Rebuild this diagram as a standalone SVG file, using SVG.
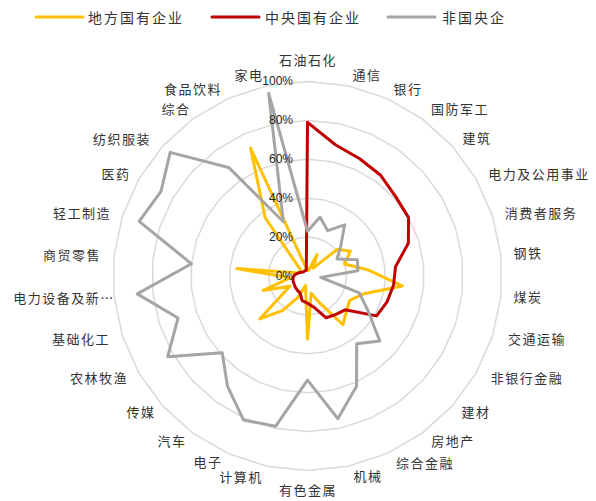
<svg xmlns="http://www.w3.org/2000/svg" xmlns:xlink="http://www.w3.org/1999/xlink" width="596" height="501" viewBox="0 0 596 501">
<style>
.grid{fill:none;stroke:#d9d9d9;stroke-width:1.5;vector-effect:non-scaling-stroke}
.cat{font-family:"Noto Sans CJK SC","Noto Sans",sans-serif;font-size:13px;letter-spacing:1.5px;fill:#333;text-anchor:middle;dominant-baseline:central}
.leg{font-family:"Noto Sans CJK SC","Noto Sans",sans-serif;font-size:14px;letter-spacing:2px;fill:#333;dominant-baseline:central}
.pct{font-family:"Liberation Sans",Arial,sans-serif;font-size:12px;fill:#262626;text-anchor:end;dominant-baseline:central}
.s{fill:none;stroke-width:3;stroke-linejoin:round;stroke-linecap:round}
.y{stroke:#FFC000}.r{stroke:#C00000}.g{stroke:#A5A5A5}
</style>
<defs>
<polygon id="ring" class="grid" points="0,-100 20.79,-97.81 40.67,-91.35 58.78,-80.9 74.31,-66.91 86.6,-50 95.11,-30.9 99.45,-10.45 99.45,10.45 95.11,30.9 86.6,50 74.31,66.91 58.78,80.9 40.67,91.35 20.79,97.81 0,100 -20.79,97.81 -40.67,91.35 -58.78,80.9 -74.31,66.91 -86.6,50 -95.11,30.9 -99.45,10.45 -99.45,-10.45 -95.11,-30.9 -86.6,-50 -74.31,-66.91 -58.78,-80.9 -40.67,-91.35 -20.79,-97.81"/>
</defs>
<rect width="596" height="501" fill="#fff"/>
<g id="legend">
<line x1="36" y1="17" x2="83" y2="17" class="s y" stroke-width="4"/>
<text x="88" y="17" class="leg">地方国有企业</text>
<line x1="212" y1="17" x2="259" y2="17" class="s r" stroke-width="4"/>
<text x="265" y="17" class="leg">中央国有企业</text>
<line x1="388" y1="17" x2="435" y2="17" class="s g" stroke-width="4"/>
<text x="442" y="17" class="leg">非国央企</text>
</g>
<g id="gridlines">
<use xlink:href="#ring" transform="translate(307.5 276) scale(0.389)"/>
<use xlink:href="#ring" transform="translate(307.5 276) scale(0.778)"/>
<use xlink:href="#ring" transform="translate(307.5 276) scale(1.167)"/>
<use xlink:href="#ring" transform="translate(307.5 276) scale(1.556)"/>
<use xlink:href="#ring" transform="translate(307.5 276) scale(1.945)"/>
</g>
<g id="categories">
<text x="308" y="59" class="cat">石油石化</text>
<text x="367" y="74" class="cat">通信</text>
<text x="408" y="88" class="cat">银行</text>
<text x="460" y="108" class="cat">国防军工</text>
<text x="477" y="137" class="cat">建筑</text>
<text x="539" y="173" class="cat">电力及公用事业</text>
<text x="541" y="212" class="cat">消费者服务</text>
<text x="528" y="252" class="cat">钢铁</text>
<text x="528" y="296" class="cat">煤炭</text>
<text x="537" y="338" class="cat">交通运输</text>
<text x="527" y="377" class="cat">非银行金融</text>
<text x="476" y="411" class="cat">建材</text>
<text x="453" y="440" class="cat">房地产</text>
<text x="425" y="462" class="cat">综合金融</text>
<text x="368" y="475" class="cat">机械</text>
<text x="308" y="489" class="cat">有色金属</text>
<text x="241" y="476" class="cat">计算机</text>
<text x="208" y="461" class="cat">电子</text>
<text x="172" y="440" class="cat">汽车</text>
<text x="141" y="411" class="cat">传媒</text>
<text x="99" y="377" class="cat">农林牧渔</text>
<text x="81" y="338" class="cat">基础化工</text>
<text x="64" y="297" class="cat">电力设备及新…</text>
<text x="72" y="254" class="cat">商贸零售</text>
<text x="82" y="212" class="cat">轻工制造</text>
<text x="116" y="173" class="cat">医药</text>
<text x="122" y="138" class="cat">纺织服装</text>
<text x="176" y="108" class="cat">综合</text>
<text x="193" y="88" class="cat">食品饮料</text>
<text x="249" y="74" class="cat">家电</text>
</g>
<g id="series">
<polygon id="local-soe" class="s y" points="307.5,270.16 308.71,270.29 316.99,254.68 313.22,268.13 337.13,249.32 350.45,251.2 344.5,263.98 367.47,269.7 402.28,285.96 363,294.03 349.61,300.31 346.53,311.14 342.94,324.78 319.37,302.66 311.14,293.13 307.5,339.21 305.48,285.51 298.01,297.32 282.35,310.62 259.8,318.95 289.81,286.21 263.1,290.42 290.09,277.83 236.9,268.58 298.25,272.99 300.76,272.11 300.27,269.49 265.2,217.78 250.55,148.07 305.48,266.48"/>
<polygon id="central-soe" class="s r" points="307.5,122.34 335.4,144.73 359.71,158.73 380.67,175.3 395.67,196.61 408.56,217.65 408.32,243.25 395.51,266.75 393.57,285.04 387.05,301.84 376.56,315.87 345.08,309.84 335.51,314.55 326.09,317.76 314.17,307.39 307.5,303.23 302.24,300.74 299.98,292.88 297.21,290.16 295.22,287.06 294.03,283.78 293.07,280.69 292.99,277.52 294.93,274.68 298.25,272.99 301.1,272.3 303.16,272.09 304.07,271.28 305.13,270.67 306.29,270.29"/>
<polygon id="non-state" class="s g" points="307.5,231.26 320.04,217.02 327.67,230.69 344.66,224.86 340.75,246.06 336.98,258.98 357.45,259.77 357.79,270.72 320.66,277.38 359.3,292.83 368.14,311.01 379.77,341.07 356.66,343.66 356.54,386.16 337.83,418.69 307.5,380.06 275.55,426.3 243.42,419.92 227.47,386.15 222.22,352.79 167.69,356.72 178.01,318.07 137.28,293.89 191.44,263.8 139.16,221.31 160.96,191.39 170.19,152.37 228.62,167.43 283.37,221.81 268.68,93.37"/>
</g>
<g id="value-axis">
<text x="293" y="276" class="pct">0%</text>
<text x="293" y="237" class="pct">20%</text>
<text x="293" y="198" class="pct">40%</text>
<text x="293" y="159" class="pct">60%</text>
<text x="293" y="120" class="pct">80%</text>
<text x="293" y="81" class="pct">100%</text>
</g>
</svg>
